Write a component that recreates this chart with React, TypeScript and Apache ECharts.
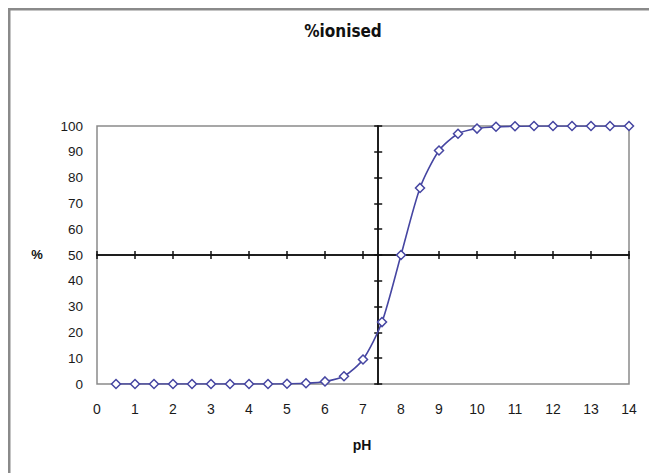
import React, { useEffect, useRef } from "react";
import * as echarts from "echarts";

const titleText = "%ionised";
const xName = "pH";
const yName = "%";
const pH = [0.5, 1, 1.5, 2, 2.5, 3, 3.5, 4, 4.5, 5, 5.5, 6, 6.5, 7, 7.5, 8, 8.5, 9, 9.5, 10, 10.5, 11, 11.5, 12, 12.5, 13, 13.5, 14];
const ionised = [0, 0, 0, 0, 0, 0, 0, 0, 0, 0.1, 0.3, 1, 3, 9.5, 24, 50, 76, 90.5, 97, 99, 99.7, 99.9, 100, 100, 100, 100, 100, 100];
const crossX = 7.4;
const crossY = 50;

export default function App() {
  const ref = useRef<HTMLDivElement>(null);
  useEffect(() => {
    if (!ref.current) return;
    const chart = echarts.init(ref.current, undefined, { renderer: "svg" });
    const gridL = 97, gridR = 629, gridT = 126, gridB = 384;
    const xMin = 0, xMax = 14, yMin = 0, yMax = 100;
    const xOff = -((gridB - gridT) * (crossY - yMin) / (yMax - yMin));
    const yOff = -((gridR - gridL) * (crossX - xMin) / (xMax - xMin));
    const labelFont = { fontFamily: "'Liberation Sans', Arial, sans-serif", color: "#1a1a1a" };
    const decoX = (inside: boolean) => ({
      type: "value", min: xMin, max: xMax, interval: 1, position: "bottom", offset: xOff,
      axisLine: { show: true, onZero: false, lineStyle: { color: "#111", width: 1.5 } },
      axisTick: { show: true, inside, length: 4, lineStyle: { color: "#111", width: 1.5 } },
      axisLabel: { show: false }, splitLine: { show: false },
    });
    const decoY = (inside: boolean) => ({
      type: "value", min: yMin, max: yMax, interval: 10, position: "left", offset: yOff,
      axisLine: { show: true, onZero: false, lineStyle: { color: "#111", width: 1.5 } },
      axisTick: { show: true, inside, length: 4, lineStyle: { color: "#111", width: 1.5 } },
      axisLabel: { show: false }, splitLine: { show: false },
    });
    chart.setOption({
      animation: false,
      backgroundColor: "#fff",
      grid: {
        left: gridL, top: gridT, width: gridR - gridL, height: gridB - gridT,
        show: true, borderColor: "#8a8a8a", borderWidth: 1.5, backgroundColor: "transparent",
      },
      xAxis: [
        {
          type: "value", min: xMin, max: xMax, interval: 1, position: "bottom",
          axisLine: { show: false, onZero: false }, axisTick: { show: false },
          axisLabel: { ...labelFont, fontSize: 14, margin: 18 }, splitLine: { show: false },
        },
        decoX(false),
        decoX(true),
      ],
      yAxis: [
        {
          type: "value", min: yMin, max: yMax, interval: 10, position: "left",
          axisLine: { show: false, onZero: false }, axisTick: { show: false },
          axisLabel: { ...labelFont, fontSize: 13.5, margin: 14 }, splitLine: { show: false },
        },
        decoY(false),
        decoY(true),
      ],
      series: [
        {
          type: "line",
          xAxisIndex: 0,
          yAxisIndex: 0,
          data: pH.map((x, i) => [x, ionised[i]]),
          smooth: 0.25,
          symbol: "diamond",
          symbolSize: 9,
          lineStyle: { color: "#4646a2", width: 1.6 },
          itemStyle: { color: "#fff", borderColor: "#4646a2", borderWidth: 1.5 },
          z: 5,
        },
      ],
      graphic: [
        {
          type: "rect", left: 8, top: 8, z: -1, silent: true,
          shape: { x: 0, y: 0, width: 700, height: 520 },
          style: { fill: "transparent", stroke: "#8a8a8a", lineWidth: 2.5 },
        },
        {
          type: "text", x: 343, y: 31,
          style: { text: titleText, fill: "#111", font: "bold 17px 'Liberation Sans Narrow', 'DejaVu Sans Condensed', Arial, sans-serif", textAlign: "center", textVerticalAlign: "middle" },
        },
        {
          type: "text", x: 37, y: 254,
          style: { text: yName, fill: "#111", font: "bold 13px 'Liberation Sans', Arial, sans-serif", textAlign: "center", textVerticalAlign: "middle" },
        },
        {
          type: "text", x: 362, y: 445,
          style: { text: xName, fill: "#111", font: "bold 14px 'Liberation Sans', Arial, sans-serif", textAlign: "center", textVerticalAlign: "middle" },
        },
      ],
    });
    return () => chart.dispose();
  }, []);
  return <div ref={ref} style={{ position: "fixed", left: 0, top: 0, width: 649, height: 473 }} />;
}
